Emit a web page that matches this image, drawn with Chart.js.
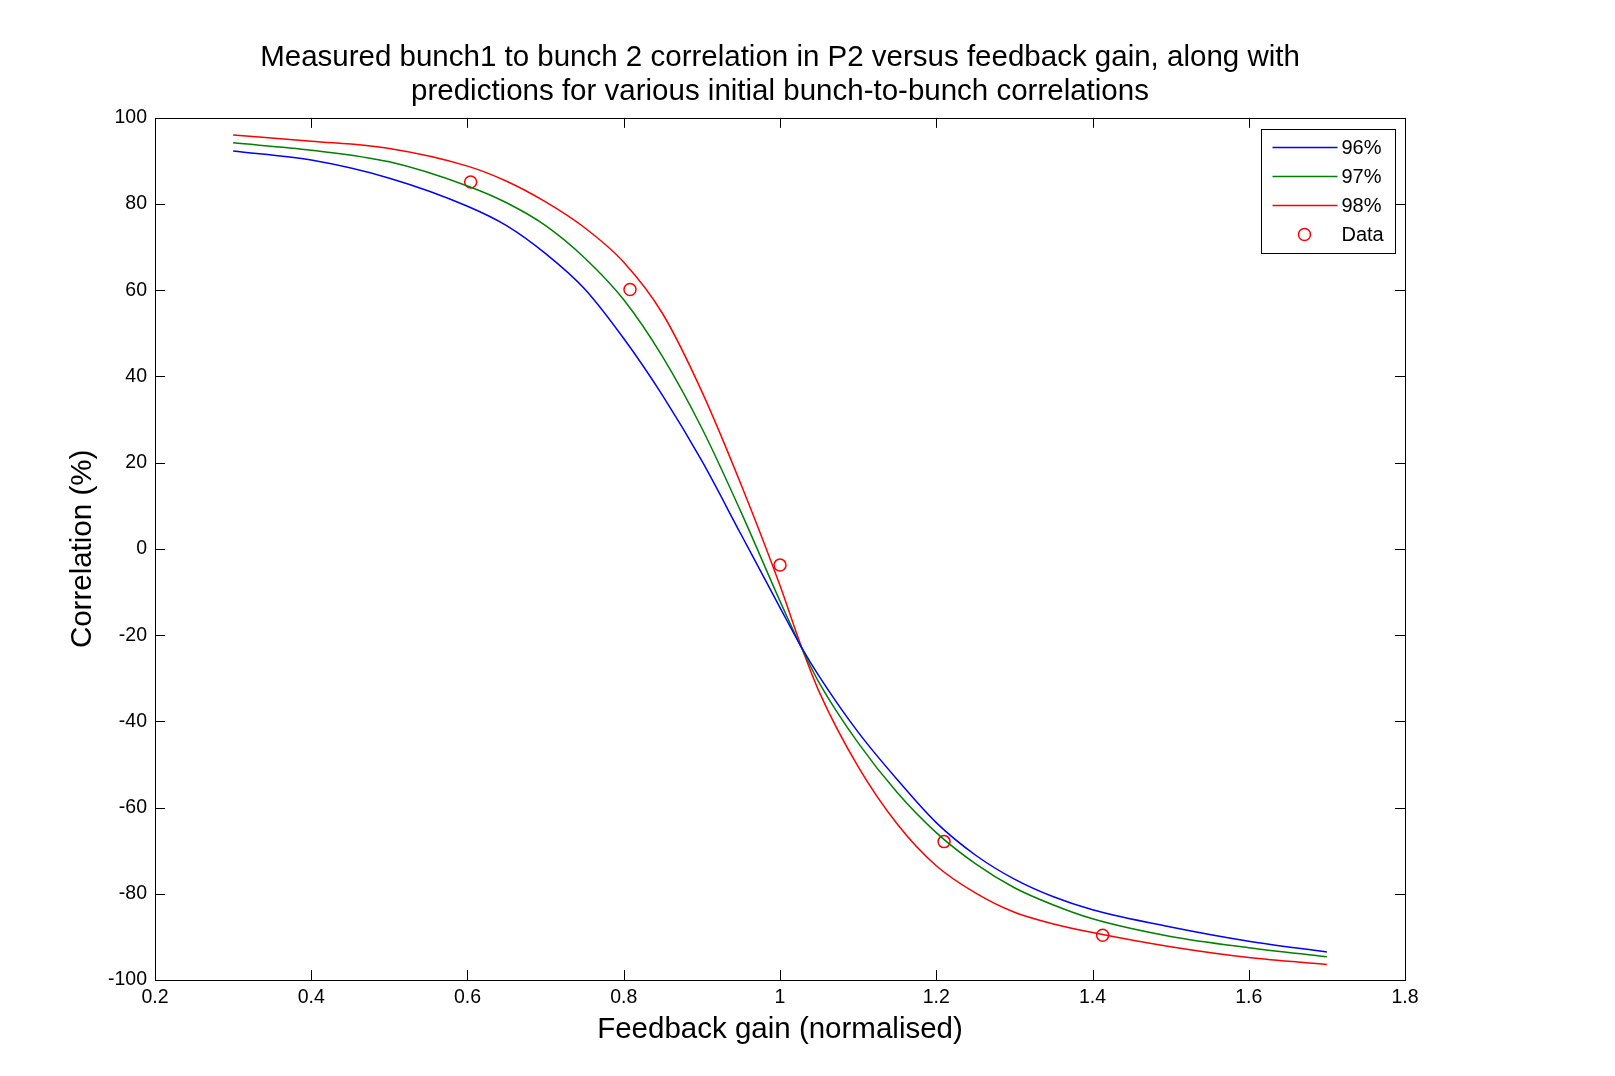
<!DOCTYPE html>
<html>
<head>
<meta charset="utf-8">
<script src="https://cdn.jsdelivr.net/npm/chart.js@4.4.1/dist/chart.umd.min.js"></script>
<style>
  html, body { margin: 0; padding: 0; background: #fff; }
  canvas { display: block; }
</style>
</head>
<body>
<canvas id="c" width="1615" height="1076"></canvas>
<script>
// feedback gain (normalised) where the curves were read
const gain = [0.3, 0.4, 0.5, 0.6, 0.65, 0.7, 0.75, 0.8, 0.85, 0.9, 0.95, 1.0, 1.025, 1.05, 1.1, 1.15, 1.2, 1.25, 1.3, 1.35, 1.4, 1.5, 1.6, 1.7];

// predicted correlation (%) for each initial correlation
const pred96 = [92.3, 90.2, 86.0, 79.5, 75.0, 68.5, 60.3, 48.8, 35.5, 20.4, 3.4, -13.6, -22, -29.5, -42.5, -53.5, -63.5, -71.0, -76.6, -80.7, -83.7, -87.7, -91.0, -93.5];
const pred97 = [94.2, 92.5, 89.8, 84.2, 80.3, 75.0, 67.5, 57.8, 44.5, 28.0, 8.6, -12.1, -22, -31, -45.0, -56.5, -65.8, -73.0, -78.6, -82.6, -85.8, -89.9, -92.5, -94.6];
const pred98 = [96.0, 94.6, 92.9, 88.8, 85.3, 80.5, 74.5, 66.5, 54.5, 36.5, 15.0, -8.5, -21.5, -33.1, -50.5, -63.8, -73.5, -79.8, -84.3, -87.0, -89.0, -92.3, -94.8, -96.4];

// measured points
const dataGain = [0.604, 0.808, 1.0, 1.21, 1.413];
const dataCorr = [85.1, 60.2, -3.75, -67.9, -89.6];

// axis ticks
const xTicks = [0.2, 0.4, 0.6, 0.8, 1.0, 1.2, 1.4, 1.6, 1.8];
const yTicks = [-100, -80, -60, -40, -20, 0, 20, 40, 60, 80, 100];

const seriesNames = ['96%', '97%', '98%', 'Data'];

const FONT = '"Liberation Sans", Arial, Helvetica, sans-serif';

function pts(xs, ys) {
    return xs.map((x, i) => ({ x: x, y: ys[i] }));
}

function lineSet(label, values, color) {
    return {
        label: label,
        data: pts(gain, values),
        borderColor: color,
        borderWidth: 1.5,
        pointRadius: 0,
        fill: false,
        cubicInterpolationMode: 'monotone'
    };
}

// box, inward ticks on all four sides and a MATLAB style legend
const frame = {
    id: 'frame',
    afterDraw(chart) {
        const { ctx, chartArea: a, scales: { x, y } } = chart;
        const len = 10;
        ctx.save();
        ctx.strokeStyle = '#000';
        ctx.lineWidth = 1;
        ctx.strokeRect(Math.round(a.left) + 0.5, Math.round(a.top) + 0.5,
            Math.round(a.right - a.left), Math.round(a.bottom - a.top));

        ctx.beginPath();
        x.ticks.forEach(t => {
            const px = Math.round(x.getPixelForValue(t.value)) + 0.5;
            ctx.moveTo(px, a.bottom); ctx.lineTo(px, a.bottom - len);
            ctx.moveTo(px, a.top); ctx.lineTo(px, a.top + len);
        });
        y.ticks.forEach(t => {
            const py = Math.round(y.getPixelForValue(t.value)) + 0.5;
            ctx.moveTo(a.left, py); ctx.lineTo(a.left + len, py);
            ctx.moveTo(a.right, py); ctx.lineTo(a.right - len, py);
        });
        ctx.stroke();

        // legend
        const bw = 134, bh = 124;
        const bx = Math.round(a.right - 10 - bw) + 0.5;
        const by = Math.round(a.top + 11) + 0.5;
        ctx.fillStyle = '#fff';
        ctx.fillRect(bx, by, bw, bh);
        ctx.strokeRect(bx, by, bw, bh);
        ctx.font = '20px ' + FONT;
        ctx.textBaseline = 'middle';
        ctx.textAlign = 'left';
        chart.data.datasets.forEach((ds, i) => {
            const cy = by + 18 + i * 29;
            ctx.beginPath();
            ctx.strokeStyle = ds.borderColor;
            ctx.lineWidth = 1.5;
            if (ds.showLine === false) {
                ctx.arc(bx + 43, cy, 6, 0, Math.PI * 2);
            } else {
                ctx.moveTo(bx + 11, cy);
                ctx.lineTo(bx + 76, cy);
            }
            ctx.stroke();
            ctx.fillStyle = '#000';
            ctx.fillText(ds.label, bx + 80, cy + 1);
        });
        ctx.restore();
    }
};

new Chart(document.getElementById('c'), {
    type: 'line',
    data: {
        datasets: [
            lineSet(seriesNames[0], pred96, '#0000ff'),
            lineSet(seriesNames[1], pred97, '#008000'),
            lineSet(seriesNames[2], pred98, '#ff0000'),
            {
                label: seriesNames[3],
                data: pts(dataGain, dataCorr),
                showLine: false,
                borderColor: '#ff0000',
                backgroundColor: 'rgba(0,0,0,0)',
                borderWidth: 1.5,
                pointRadius: 6,
                pointStyle: 'circle'
            }
        ]
    },
    options: {
        responsive: false,
        animation: false,
        layout: { padding: { left: 0, right: 210, top: 0, bottom: 0 } },
        plugins: {
            legend: { display: false },
            tooltip: { enabled: false },
            title: {
                display: true,
                fullSize: false,
                text: [
                    'Measured bunch1 to bunch 2 correlation in P2 versus feedback gain, along with',
                    'predictions for various initial bunch-to-bunch correlations'
                ],
                color: '#000',
                font: { family: FONT, size: 29.5, weight: 'normal', lineHeight: 1.15 },
                padding: { top: 41, bottom: 9 }
            }
        },
        scales: {
            x: {
                type: 'linear',
                min: 0.2,
                max: 1.8,
                afterFit(s) { s.height = 96; },
                afterBuildTicks(s) { s.ticks = xTicks.map(v => ({ value: v })); },
                grid: { display: false, drawTicks: false },
                border: { display: false },
                ticks: {
                    color: '#000',
                    padding: 6,
                    maxRotation: 0,
                    autoSkip: false,
                    font: { family: FONT, size: 19.5 },
                    callback: v => String(v)
                },
                title: {
                    display: true,
                    text: 'Feedback gain (normalised)',
                    color: '#000',
                    font: { family: FONT, size: 29.5, weight: 'normal' },
                    padding: { top: 0, bottom: 28 }
                }
            },
            y: {
                type: 'linear',
                min: -100,
                max: 100,
                afterFit(s) { s.width = 155; },
                afterBuildTicks(s) { s.ticks = yTicks.map(v => ({ value: v })); },
                grid: { display: false, drawTicks: false },
                border: { display: false },
                ticks: {
                    color: '#000',
                    padding: 8,
                    autoSkip: false,
                    font: { family: FONT, size: 19.5 },
                    callback: v => String(v)
                },
                title: {
                    display: true,
                    text: 'Correlation (%)',
                    color: '#000',
                    font: { family: FONT, size: 29.5, weight: 'normal' },
                    padding: { top: 65, bottom: 0 }
                }
            }
        }
    },
    plugins: [frame]
});
</script>
</body>
</html>
